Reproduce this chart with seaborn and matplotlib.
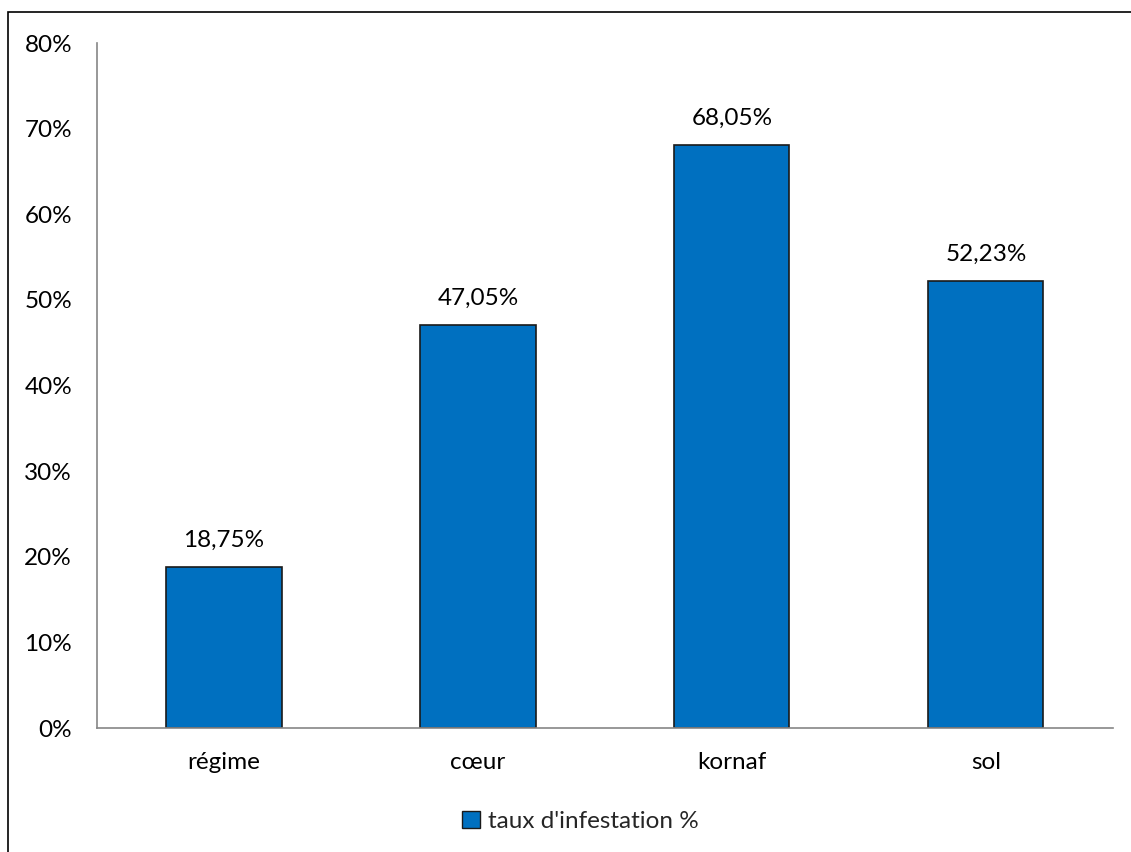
import matplotlib
matplotlib.use("Agg")
import matplotlib.pyplot as plt
import seaborn as sns
import pandas as pd
from matplotlib.patches import Rectangle, Patch

categories = ["régime", "cœur", "kornaf", "sol"]
values = [18.75, 47.05, 68.05, 52.23]
yticks = [0, 10, 20, 30, 40, 50, 60, 70, 80]
series_name = "taux d'infestation %"

sns.set_theme(style="white")
plt.rcParams["font.family"] = ["Lato", "DejaVu Sans"]

df = pd.DataFrame({"cat": categories, "val": values})

fig = plt.figure(figsize=(11.31, 8.52), dpi=100)
ax = fig.add_axes([0.0858, 0.1455, 0.8982, 0.804])

sns.barplot(data=df, x="cat", y="val", color="#0070C0", saturation=1,
            width=0.453, edgecolor="#1a1a1a", linewidth=1.2, ax=ax)

ax.set_xlim(-0.5, 3.5)
ax.set_ylim(0, 80)
ax.set_yticks(yticks)
ax.set_yticklabels([f"{t}%" for t in yticks], fontsize=17.5)
ax.set_xticks(range(len(categories)))
ax.set_xticklabels(categories, fontsize=17.5)
ax.tick_params(axis="both", length=0, colors="#000000")
ax.tick_params(axis="y", pad=18)
ax.tick_params(axis="x", pad=17)
ax.set_xlabel("")
ax.set_ylabel("")

for s in ["top", "right"]:
    ax.spines[s].set_visible(False)
for s in ["left", "bottom"]:
    ax.spines[s].set_color("#868686")
    ax.spines[s].set_linewidth(1.2)

for i, v in enumerate(values):
    ax.text(i, v + 1.9, f"{v:.2f}%".replace(".", ","), ha="center", va="bottom",
            fontsize=17.5, color="#000000")

handle = Patch(facecolor="#0070C0", edgecolor="#1a1a1a", linewidth=1.0)
fig.legend([handle], [series_name], loc="center", bbox_to_anchor=(0.513, 0.036),
           frameon=False, fontsize=17.5, handlelength=0.75, handleheight=0.75,
           handletextpad=0.3)

fig.patches.append(Rectangle((8 / 1131, -0.1), 1.2, 1 - 12 / 852 + 0.1,
                             transform=fig.transFigure, fill=False,
                             edgecolor="#000000", linewidth=1.2))

fig.savefig("out.png", dpi=100, facecolor="white")
